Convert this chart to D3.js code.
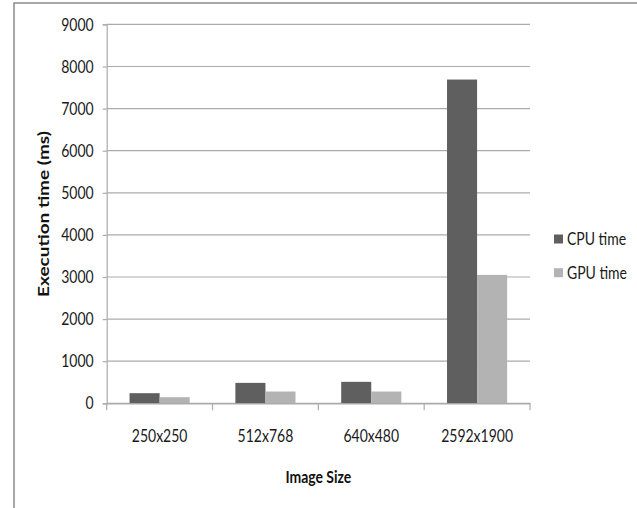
<!DOCTYPE html>
<html>
<head>
<meta charset="utf-8">
<script src="https://cdn.jsdelivr.net/npm/d3@7"></script>
<style>
  html, body { margin: 0; padding: 0; background: #fff; }
  svg { display: block; }
  .lbl { font-family: Lato, "Open Sans", sans-serif; font-size: 17.5px; fill: #1a1a1a; }
</style>
</head>
<body>
<svg id="chart" width="637" height="508"></svg>
<script>
const categories = ["250x250", "512x768", "640x480", "2592x1900"];
const seriesNames = ["CPU time", "GPU time"];
const cpuTime = [240, 485, 510, 7690];
const gpuTime = [145, 280, 280, 3050];
const yTicks = [0, 1000, 2000, 3000, 4000, 5000, 6000, 7000, 8000, 9000];
const colors = ["#5f5f5f", "#b3b3b3"];

const seriesValues = [cpuTime, gpuTime];
const SQ = 0.8; // horizontal squash of the original picture's text
const svg = d3.select("#chart");
const W = 637, H = 508;
const margin = { left: 106.7, right: W - 530, top: 24.4, bottom: H - 403.3 };
const w = W - margin.left - margin.right;
const h = H - margin.top - margin.bottom;

function squash(sel) {
  sel.each(function() {
    const t = d3.select(this);
    const x = +(t.attr("x") || 0);
    t.attr("x", x / SQ).attr("transform", `scale(${SQ},1)`);
  });
}

svg.append("rect").attr("width", W).attr("height", H).attr("fill", "#fff");
svg.append("rect").attr("x", 14).attr("y", 3).attr("width", 700).attr("height", 600)
  .attr("fill", "none").attr("stroke", "#8a8a8a").attr("stroke-width", 1.5);

const g = svg.append("g").attr("transform", `translate(${margin.left},${margin.top})`);

const y = d3.scaleLinear().domain([0, 9000]).range([h, 0]);
const x0 = d3.scaleBand().domain(categories).range([0, w]).padding(0);
const x1 = d3.scaleBand().domain(seriesNames).range([0, x0.bandwidth()]).paddingInner(0).paddingOuter(0.76);

g.append("g").selectAll("line").data(yTicks).join("line")
  .attr("x1", 0).attr("x2", w).attr("y1", d => y(d)).attr("y2", d => y(d))
  .attr("stroke", "#ababab").attr("stroke-width", 1.2);

const yAxis = g.append("g").call(d3.axisLeft(y).tickValues(yTicks).tickSize(4).tickPadding(9).tickFormat(d3.format("d")));
yAxis.select(".domain").attr("stroke", "#ababab").attr("stroke-width", 1.2);
yAxis.selectAll(".tick line").attr("stroke", "#ababab").attr("stroke-width", 1.2);
yAxis.selectAll("text").attr("class", "lbl").attr("font-family", null).attr("font-size", null).call(squash);

categories.forEach((c, i) => {
  seriesNames.forEach((s, j) => {
    g.append("rect")
      .attr("x", x0(c) + x1(s))
      .attr("y", y(seriesValues[j][i]))
      .attr("width", x1.bandwidth())
      .attr("height", h - y(seriesValues[j][i]))
      .attr("fill", colors[j]);
  });
});

const xAxis = g.append("g").attr("transform", `translate(0,${h})`)
  .call(d3.axisBottom(x0).tickSize(0).tickPadding(26));
xAxis.select(".domain").attr("stroke", "#ababab").attr("stroke-width", 1.2);
xAxis.selectAll("text").attr("class", "lbl").attr("font-family", null).attr("font-size", null).call(squash);
const bounds = categories.map(c => x0(c)).concat([x0.range()[1]]);
g.append("g").selectAll("line").data(bounds).join("line")
  .attr("x1", d => d).attr("x2", d => d).attr("y1", h).attr("y2", h + 7)
  .attr("stroke", "#ababab").attr("stroke-width", 1.2);

svg.append("text")
  .attr("transform", `translate(${margin.left + w / 2},482.5) scale(${SQ},1)`)
  .attr("text-anchor", "middle")
  .attr("font-family", "Lato, 'Open Sans', sans-serif")
  .attr("font-weight", "bold").attr("font-size", 17.5).attr("fill", "#111")
  .text("Image Size");

svg.append("text")
  .attr("transform", `translate(49,214) scale(${SQ},1) rotate(-90)`)
  .attr("text-anchor", "middle")
  .attr("font-family", "Lato, 'Open Sans', sans-serif")
  .attr("font-weight", "bold").attr("font-size", 19).attr("fill", "#111")
  .text("Execution time (ms)");

const legend = svg.append("g");
seriesNames.forEach((s, j) => {
  const cy = 239 + j * 33.7;
  legend.append("rect").attr("x", 554).attr("y", cy - 4.5).attr("width", 9).attr("height", 9).attr("fill", colors[j]);
  legend.append("text").attr("class", "lbl")
    .attr("transform", `translate(567,${cy}) scale(${SQ},1)`)
    .attr("dy", "0.35em").text(s);
});
</script>
</body>
</html>
